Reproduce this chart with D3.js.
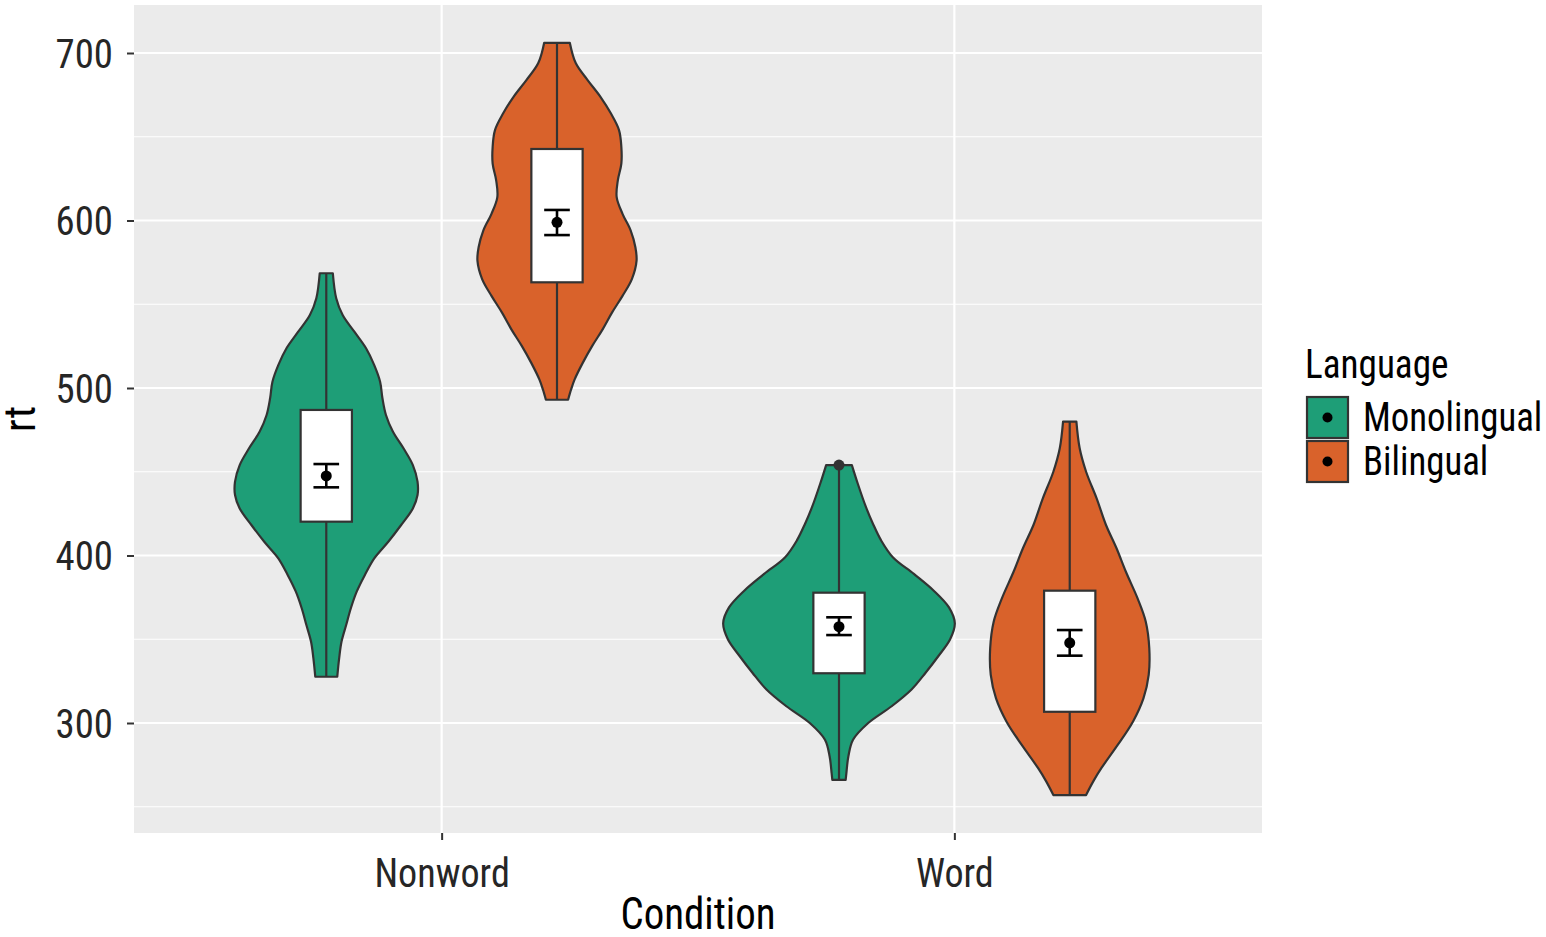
<!DOCTYPE html>
<html>
<head>
<meta charset="utf-8">
<script src="https://cdn.jsdelivr.net/npm/d3@7"></script>
<style>
  html, body { margin: 0; padding: 0; background: #ffffff; }
  svg { display: block; font-family: "Roboto Condensed", "Liberation Sans Narrow", "Arial Narrow", sans-serif; }
</style>
</head>
<body>
<svg id="chart" width="1546" height="937"></svg>
<script>
// ---------------- data ----------------
const conditions = ["Nonword", "Word"];
const languages = ["Monolingual", "Bilingual"];
const languageColors = ["#1E9E77", "#D9622B"];
const yTicks = [300, 400, 500, 600, 700];
const yMinorTicks = [250, 350, 450, 550, 650];

// violin outlines: rt value and relative density (1 = widest violin)
const nonwordMonoRt = [568.5, 553.6, 543.6, 533.6, 523.7, 513.7, 503.8, 493.9, 483.9, 473.9, 464, 454, 444.1, 436.1, 428.1, 418.2, 408.2, 398.3, 388.4, 378.4, 368.5, 358.5, 348.5, 338.6, 327.6];
const nonwordMonoDensity = [0.056, 0.085, 0.14, 0.24, 0.34, 0.41, 0.46, 0.48, 0.51, 0.57, 0.66, 0.74, 0.78, 0.78, 0.74, 0.64, 0.53, 0.41, 0.33, 0.26, 0.21, 0.17, 0.13, 0.11, 0.094];

const nonwordBiRt = [706, 694, 684, 674, 664, 654, 644, 634, 624, 614, 604, 594, 584, 576, 565, 555, 545, 535, 525, 515, 505, 499, 493];
const nonwordBiDensity = [0.11, 0.16, 0.26, 0.37, 0.46, 0.53, 0.55, 0.55, 0.52, 0.51, 0.56, 0.63, 0.67, 0.68, 0.64, 0.56, 0.47, 0.39, 0.30, 0.22, 0.15, 0.12, 0.095];

const wordMonoRt = [454, 443, 429, 419, 409, 399, 389, 379, 369, 359.5, 350, 340, 330, 320, 310, 300, 290, 280, 270, 266];
const wordMonoDensity = [0.11, 0.16, 0.23, 0.29, 0.36, 0.46, 0.64, 0.81, 0.94, 0.99, 0.95, 0.85, 0.74, 0.62, 0.45, 0.25, 0.12, 0.08, 0.063, 0.057];

const wordBiRt = [479.9, 464, 450, 434.1, 418.2, 404.3, 390.3, 374.4, 360.5, 344.6, 328.7, 314.7, 300.8, 286.9, 273, 265, 257];
const wordBiDensity = [0.057, 0.085, 0.14, 0.23, 0.31, 0.40, 0.48, 0.58, 0.65, 0.68, 0.675, 0.63, 0.54, 0.41, 0.27, 0.20, 0.14];

// boxplot & summary per group (order: Nonword-Mono, Nonword-Bi, Word-Mono, Word-Bi)
const groupCondition = ["Nonword", "Nonword", "Word", "Word"];
const groupLanguage = ["Monolingual", "Bilingual", "Monolingual", "Bilingual"];
const boxQ1 = [420.2, 563.1, 329.7, 306.7];
const boxQ3 = [486.9, 642.7, 377.8, 379.0];
const whiskerLow = [327.6, 493, 266, 257];
const whiskerHigh = [568.5, 706, 454, 479.9];
const meanRt = [447.5, 598.9, 357.5, 347.9];
const seLow = [440.7, 591.3, 352.5, 340.2];
const seHigh = [454.6, 606.3, 363.1, 355.5];
const outlierGroup = [2];
const outlierRt = [454];

// ---------------- layout ----------------
const svg = d3.select("#chart");
const panel = { left: 134, right: 1262, top: 5, bottom: 833 };
const ink = "#333333";
const textCondense = 0.93;

// compress glyphs horizontally to match the narrow face of the original
function condense(sel, factor) {
  sel.each(function () {
    const w = this.getComputedTextLength();
    d3.select(this).attr("textLength", w * factor).attr("lengthAdjust", "spacingAndGlyphs");
  });
}

const x = d3.scalePoint().domain(conditions).range([panel.left, panel.right]).padding(0.6);
const step = x.step();
const dodge = d3.scaleOrdinal().domain(languages).range([-0.225 * step, 0.225 * step]);
const color = d3.scaleOrdinal().domain(languages).range(languageColors);
const y = d3.scaleLinear().domain([234.33, 728.66]).range([panel.bottom, panel.top]);
const wScale = d3.scaleLinear().domain([0, 1]).range([0, 117]);
const boxHalf = 0.05 * step;
const capHalf = 0.025 * step;

// panel background
svg.append("rect")
  .attr("x", panel.left).attr("y", panel.top)
  .attr("width", panel.right - panel.left).attr("height", panel.bottom - panel.top)
  .attr("fill", "#EBEBEB");

// grid
svg.append("g").selectAll("line").data(yMinorTicks).join("line")
  .attr("x1", panel.left).attr("x2", panel.right)
  .attr("y1", d => y(d)).attr("y2", d => y(d))
  .attr("stroke", "#ffffff").attr("stroke-width", 1.1);
svg.append("g").selectAll("line").data(yTicks).join("line")
  .attr("x1", panel.left).attr("x2", panel.right)
  .attr("y1", d => y(d)).attr("y2", d => y(d))
  .attr("stroke", "#ffffff").attr("stroke-width", 2.2);
svg.append("g").selectAll("line").data(conditions).join("line")
  .attr("x1", d => x(d)).attr("x2", d => x(d))
  .attr("y1", panel.top).attr("y2", panel.bottom)
  .attr("stroke", "#ffffff").attr("stroke-width", 2.2);

// violins
const violins = [
  { cond: "Nonword", lang: "Monolingual", rt: nonwordMonoRt, dens: nonwordMonoDensity },
  { cond: "Nonword", lang: "Bilingual", rt: nonwordBiRt, dens: nonwordBiDensity },
  { cond: "Word", lang: "Monolingual", rt: wordMonoRt, dens: wordMonoDensity },
  { cond: "Word", lang: "Bilingual", rt: wordBiRt, dens: wordBiDensity }
];
violins.forEach(v => {
  const cx = x(v.cond) + dodge(v.lang);
  const pts = v.rt.map((r, i) => ({ r, d: v.dens[i] }));
  const area = d3.area()
    .y(p => y(p.r))
    .x0(p => cx - wScale(p.d))
    .x1(p => cx + wScale(p.d))
    .curve(d3.curveCatmullRom.alpha(0.5));
  svg.append("path")
    .attr("d", area(pts))
    .attr("fill", color(v.lang))
    .attr("stroke", ink).attr("stroke-width", 2.2)
    .attr("stroke-linejoin", "round");
});

// boxplots
const groups = groupCondition.map((c, i) => ({
  cx: x(c) + dodge(groupLanguage[i]),
  q1: boxQ1[i], q3: boxQ3[i], lo: whiskerLow[i], hi: whiskerHigh[i],
  mean: meanRt[i], seL: seLow[i], seH: seHigh[i]
}));
const gBox = svg.append("g");
groups.forEach(g => {
  gBox.append("line").attr("x1", g.cx).attr("x2", g.cx)
    .attr("y1", y(g.q3)).attr("y2", y(g.hi)).attr("stroke", ink).attr("stroke-width", 2.2);
  gBox.append("line").attr("x1", g.cx).attr("x2", g.cx)
    .attr("y1", y(g.q1)).attr("y2", y(g.lo)).attr("stroke", ink).attr("stroke-width", 2.2);
  gBox.append("rect")
    .attr("x", g.cx - boxHalf).attr("width", 2 * boxHalf)
    .attr("y", y(g.q3)).attr("height", y(g.q1) - y(g.q3))
    .attr("fill", "#ffffff").attr("stroke", ink).attr("stroke-width", 2.2);
});
// outliers
outlierGroup.forEach((gi, i) => {
  svg.append("circle")
    .attr("cx", groups[gi].cx).attr("cy", y(outlierRt[i]))
    .attr("r", 5.5).attr("fill", ink);
});

// mean +/- se
const gMean = svg.append("g");
groups.forEach(g => {
  gMean.append("line").attr("x1", g.cx).attr("x2", g.cx)
    .attr("y1", y(g.seL)).attr("y2", y(g.seH)).attr("stroke", "#000").attr("stroke-width", 2.6);
  [g.seL, g.seH].forEach(v => {
    gMean.append("line").attr("x1", g.cx - capHalf).attr("x2", g.cx + capHalf)
      .attr("y1", y(v)).attr("y2", y(v)).attr("stroke", "#000").attr("stroke-width", 2.6);
  });
  gMean.append("circle").attr("cx", g.cx).attr("cy", y(g.mean)).attr("r", 5.5).attr("fill", "#000");
});

// axes
const yAxis = svg.append("g").attr("transform", `translate(${panel.left},0)`)
  .call(d3.axisLeft(y).tickValues(yTicks).tickSize(7).tickPadding(14).tickFormat(d3.format("d")));
yAxis.attr("font-family", null).attr("font-size", null);
yAxis.select(".domain").remove();
yAxis.selectAll(".tick line").attr("stroke", ink).attr("stroke-width", 2);
yAxis.selectAll(".tick text").attr("font-size", 40).attr("fill", "#262626").attr("dy", "0.36em");
condense(yAxis.selectAll(".tick text"), 0.97);

const xAxis = svg.append("g").attr("transform", `translate(0,${panel.bottom})`)
  .call(d3.axisBottom(x).tickSize(7).tickPadding(18));
xAxis.attr("font-family", null).attr("font-size", null);
xAxis.select(".domain").remove();
xAxis.selectAll(".tick line").attr("stroke", ink).attr("stroke-width", 2);
xAxis.selectAll(".tick text").attr("font-size", 41).attr("fill", "#262626").attr("dy", "0.71em");
condense(xAxis.selectAll(".tick text"), textCondense);

// axis titles
const xTitle = svg.append("text").attr("x", (panel.left + panel.right) / 2).attr("y", 929)
  .attr("text-anchor", "middle").attr("font-size", 44).attr("fill", "#000").text("Condition");
condense(xTitle, textCondense);
const yTitle = svg.append("text").attr("transform", `translate(35,${(panel.top + panel.bottom) / 2}) rotate(-90)`)
  .attr("text-anchor", "middle").attr("font-size", 44).attr("fill", "#000").text("rt");
condense(yTitle, 0.95);

// legend
const legend = svg.append("g");
const legTitle = legend.append("text").attr("x", 1305).attr("y", 378).attr("font-size", 40).attr("fill", "#000").text("Language");
condense(legTitle, textCondense);
languages.forEach((lang, i) => {
  const ky = 397 + i * 44;
  legend.append("rect").attr("x", 1307).attr("y", ky).attr("width", 41).attr("height", 41)
    .attr("fill", color(lang)).attr("stroke", ink).attr("stroke-width", 2.2);
  legend.append("circle").attr("cx", 1327.5).attr("cy", ky + 20.5).attr("r", 5).attr("fill", "#000");
  const t = legend.append("text").attr("x", 1363).attr("y", ky + 34).attr("font-size", 40).attr("fill", "#000").text(lang);
  condense(t, 0.92);
});
</script>
</body>
</html>
